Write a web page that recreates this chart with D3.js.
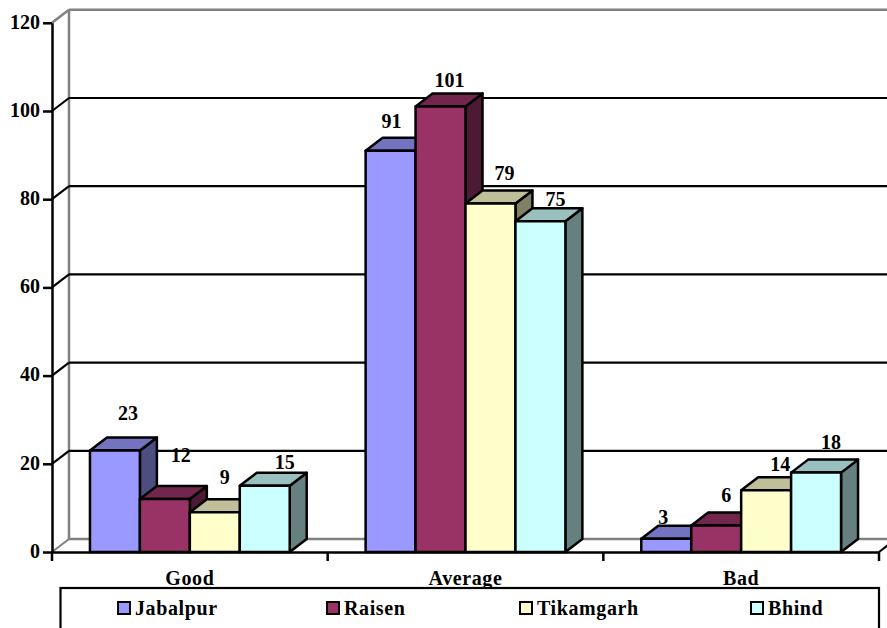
<!DOCTYPE html>
<html>
<head>
<meta charset="utf-8">
<script src="https://cdn.jsdelivr.net/npm/d3@7"></script>
<style>
html,body{margin:0;padding:0;background:#fff;overflow:hidden}
svg{display:block}
text{font-family:"Liberation Serif",serif;font-weight:bold;fill:#000;font-size:20px}
</style>
</head>
<body>
<svg id="c" width="887" height="628"></svg>
<script>
const categories = ["Good", "Average", "Bad"];
const seriesNames = ["Jabalpur", "Raisen", "Tikamgarh", "Bhind"];
const jabalpur = [23, 91, 3];
const raisen = [12, 101, 6];
const tikamgarh = [9, 79, 14];
const bhind = [15, 75, 18];
const yTicks = [0, 20, 40, 60, 80, 100, 120];
const seriesColors = ["#9999FF", "#993366", "#FFFFCC", "#CCFFFF"];

const seriesValues = [jabalpur, raisen, tikamgarh, bhind];
const svg = d3.select("#c");
const depthX = 17, depthY = 13;
const x0 = d3.scaleBand().domain(categories).range([52, 879]);
const x1 = d3.scaleBand().domain(seriesNames).range([0, x0.bandwidth()]).paddingInner(0).paddingOuter(0.76);
const y = d3.scaleLinear().domain([0, 120]).range([552, 22.8]);
const right = 887;
const GREY = "#808080";
const line = (x1_, y1_, x2_, y2_, c, w) =>
  svg.append("line").attr("x1", x1_).attr("y1", y1_).attr("x2", x2_).attr("y2", y2_)
     .attr("stroke", c).attr("stroke-width", w);

// walls
line(52, y(120), 52 + depthX, y(120) - depthY, GREY, 2.5);
line(52 + depthX, y(120) - depthY, right, y(120) - depthY, GREY, 2.5);
line(52 + depthX, y(120) - depthY, 52 + depthX, y(0) - depthY, GREY, 2.5);
line(52, y(0), 52 + depthX, y(0) - depthY, GREY, 2);
line(52 + depthX, y(0) - depthY, right, y(0) - depthY, GREY, 2.5);
line(x0.range()[1], y(0), x0.range()[1] + depthX, y(0) - depthY, "#000", 2);

// gridlines
yTicks.filter(t => t > 0 && t < 120).forEach(t => {
  line(52, y(t), 52 + depthX, y(t) - depthY, "#000", 2.2);
  line(52 + depthX, y(t) - depthY, right, y(t) - depthY, "#000", 2.2);
});

// bars, drawn left to right so each front covers the previous side
const shade = (c, k) => { const r = d3.rgb(c); return d3.rgb(r.r * k, r.g * k, r.b * k).formatHex(); };
const barLayer = svg.append("g").attr("stroke", "#000").attr("stroke-width", 2.5).attr("stroke-linejoin", "round");
const bars = [];
categories.forEach((cat, ci) => seriesNames.forEach((s, si) => bars.push({cat, s, si, v: seriesValues[si][ci]})));
bars.forEach(b => {
  const l = x0(b.cat) + x1(b.s), w = x1.bandwidth(), t = y(b.v), base = y(0);
  const col = seriesColors[b.si];
  barLayer.append("path").attr("fill", shade(col, 0.5))
    .attr("d", d3.line()([[l + w, t], [l + w + depthX, t - depthY], [l + w + depthX, base - depthY], [l + w, base]]) + "Z");
  barLayer.append("path").attr("fill", shade(col, 0.75))
    .attr("d", d3.line()([[l, t], [l + depthX, t - depthY], [l + w + depthX, t - depthY], [l + w, t]]) + "Z");
  barLayer.append("rect").attr("x", l).attr("y", t).attr("width", w).attr("height", base - t).attr("fill", col);
});

// axes
const yAxis = svg.append("g").attr("transform", "translate(52,0)")
  .call(d3.axisLeft(y).tickValues(yTicks).tickSize(9).tickPadding(3).tickSizeOuter(0));
const xAxis = svg.append("g").attr("transform", `translate(0,${y(0)})`)
  .call(d3.axisBottom(x0).tickSize(0).tickPadding(18));
[yAxis, xAxis].forEach(a => {
  a.attr("font-family", null).attr("font-size", null);
  a.selectAll("path.domain").attr("stroke", "#000").attr("stroke-width", 2.5);
  a.selectAll("line").attr("stroke", "#000").attr("stroke-width", 2.5);
});
yAxis.selectAll("text").attr("dy", "0.26em");
xAxis.selectAll("text").attr("dy", "0.34em").attr("y", 26).style("letter-spacing", "0.6px");
x0.domain().concat(["end"]).forEach((c, i) => {
  const xx = x0.range()[0] + i * x0.bandwidth();
  line(xx, y(0), xx, y(0) + 9, "#000", 2.5);
});

// data labels: hand-moved in the source chart, so each carries its own nudge from the bar top
const labelNudge = [
  [[13, -37], [16, -44], [10, -35], [20, -24]],
  [[1, -29], [9, -26], [14, -30], [15, -22]],
  [[-3, -22], [10, -30], [14, -26], [15, -30]]
];
bars.forEach(b => {
  const ci = categories.indexOf(b.cat);
  const n = labelNudge[ci][b.si];
  svg.append("text").attr("text-anchor", "middle").attr("dy", "0.34em")
    .attr("x", x0(b.cat) + x1(b.s) + x1.bandwidth() / 2 + n[0])
    .attr("y", y(b.v) + n[1])
    .text(b.v);
});

// legend
svg.append("rect").attr("x", 60.5).attr("y", 588).attr("width", 818.5).attr("height", 60)
  .attr("fill", "#fff").attr("stroke", "#000").attr("stroke-width", 2.2);
const legendSwatchX = {Jabalpur: 117, Raisen: 326, Tikamgarh: 519, Bhind: 750};
seriesNames.forEach((s, i) => {
  const lx = legendSwatchX[s];
  svg.append("rect").attr("x", lx + 1).attr("y", 602).attr("width", 12).attr("height", 12)
    .attr("fill", seriesColors[i]).attr("stroke", "#000").attr("stroke-width", 2);
  svg.append("text").attr("x", lx + 18).attr("y", 608).attr("dy", "0.34em")
    .style("letter-spacing", "0.6px").text(s);
});
</script>
</body>
</html>
